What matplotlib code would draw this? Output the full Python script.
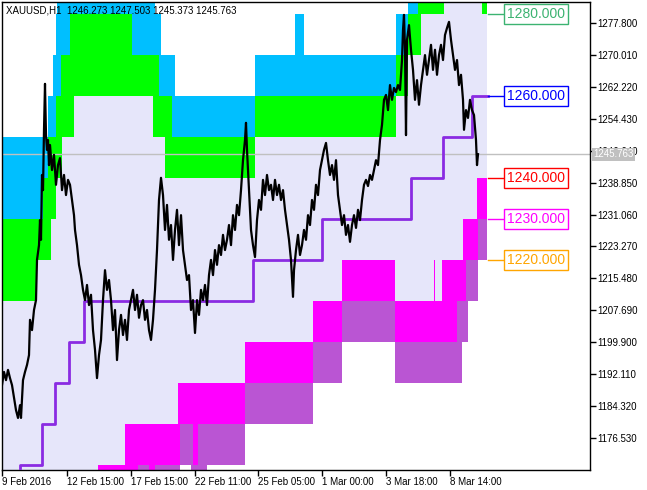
import matplotlib.pyplot as plt
from matplotlib import transforms

plt.rcParams['font.family'] = ['Liberation Sans', 'DejaVu Sans']

# H1 bars, one bar per pixel column, bar 0 = 9 Feb 2016
price_path = [
    (0, 1189.5), (2, 1192.7), (4, 1190.7), (6, 1193.2), (8, 1191.2), (10, 1189.5), (12, 1186.4),
    (14, 1183.4), (16, 1181.5), (18, 1184.6), (19, 1181.5), (21, 1190.7), (23, 1192.7), (25, 1194.4),
    (27, 1196.8), (28, 1205.4), (30, 1202.9), (32, 1207.8), (34, 1210.2), (35, 1220.0), (37, 1223.6),
    (38, 1229.7), (39, 1224.9), (40, 1240.7), (41, 1237.0), (42, 1251.7), (43, 1262.9), (44, 1250.4),
    (45, 1246.8), (46, 1249.2), (47, 1243.1), (48, 1248.0), (50, 1241.9), (52, 1245.6), (54, 1238.3),
    (56, 1243.1), (58, 1244.8), (60, 1237.0), (62, 1240.7), (64, 1235.8), (66, 1239.5), (68, 1238.3),
    (70, 1234.6), (72, 1230.9), (73, 1227.3), (75, 1223.6), (77, 1218.8), (79, 1216.3), (81, 1212.7),
    (83, 1210.2), (85, 1213.9), (87, 1209.0), (89, 1211.5), (91, 1202.9), (93, 1198.1), (95, 1191.2),
    (97, 1196.8), (99, 1200.5), (101, 1210.2), (103, 1217.5), (105, 1212.7), (107, 1215.1), (109, 1210.2),
    (111, 1202.9), (113, 1207.8), (115, 1195.6), (117, 1202.9), (119, 1206.6), (121, 1201.7), (123, 1205.4),
    (125, 1200.5), (127, 1207.8), (129, 1210.2), (131, 1212.7), (133, 1207.8), (135, 1211.5), (137, 1205.9),
    (139, 1209.0), (141, 1210.2), (143, 1205.4), (145, 1207.8), (147, 1202.9), (149, 1200.5), (151, 1205.4),
    (153, 1212.7), (155, 1222.4), (157, 1234.6), (159, 1240.0), (161, 1235.8), (163, 1227.3), (165, 1233.4),
    (167, 1224.9), (169, 1228.5), (171, 1220.0), (173, 1227.3), (175, 1232.2), (177, 1223.6), (179, 1230.9),
    (181, 1222.4), (183, 1218.8), (185, 1215.1), (187, 1216.3), (189, 1207.8), (191, 1210.2), (193, 1202.2),
    (195, 1210.2), (197, 1206.6), (199, 1212.7), (201, 1210.2), (203, 1213.9), (205, 1209.0), (207, 1216.3),
    (209, 1220.0), (211, 1216.3), (213, 1222.4), (215, 1218.8), (217, 1223.6), (219, 1221.2), (221, 1226.1),
    (223, 1222.4), (225, 1224.9), (227, 1228.5), (229, 1223.6), (231, 1230.9), (233, 1227.3), (235, 1233.4),
    (237, 1230.9), (239, 1237.0), (241, 1244.3), (243, 1249.2), (244, 1253.4), (245, 1246.8), (247, 1237.0),
    (249, 1227.3), (251, 1223.6), (253, 1220.7), (255, 1229.7), (257, 1234.6), (259, 1232.2), (261, 1239.5),
    (263, 1235.8), (265, 1240.7), (267, 1237.0), (269, 1238.3), (271, 1234.6), (273, 1239.5), (275, 1235.8),
    (277, 1238.3), (279, 1234.6), (281, 1237.0), (283, 1232.2), (285, 1228.5), (287, 1224.9), (289, 1220.0),
    (291, 1211.0), (292, 1217.5), (294, 1222.4), (296, 1226.1), (298, 1221.2), (300, 1223.6), (302, 1227.3),
    (304, 1224.9), (306, 1230.9), (308, 1228.5), (310, 1234.6), (312, 1232.2), (314, 1238.3), (316, 1235.8),
    (318, 1241.9), (320, 1244.3), (322, 1246.8), (324, 1248.5), (326, 1244.3), (328, 1240.7), (330, 1243.1),
    (332, 1239.5), (334, 1244.3), (336, 1235.8), (338, 1232.2), (340, 1228.5), (342, 1230.9), (344, 1226.1),
    (346, 1228.5), (348, 1224.4), (350, 1228.5), (352, 1230.9), (354, 1227.8), (356, 1232.2), (358, 1229.7),
    (360, 1234.6), (362, 1238.3), (364, 1239.5), (366, 1238.0), (368, 1240.7), (370, 1239.5), (372, 1241.9),
    (374, 1244.3), (376, 1243.1), (378, 1249.2), (380, 1252.9), (382, 1259.0), (384, 1260.2), (386, 1256.5),
    (388, 1262.6), (390, 1259.0), (392, 1261.9), (394, 1260.9), (396, 1262.6), (398, 1261.4), (400, 1268.7),
    (401, 1276.0), (402, 1279.7), (403, 1271.2), (404, 1250.4), (405, 1273.6), (407, 1277.2), (409, 1271.2),
    (411, 1266.3), (413, 1259.0), (415, 1263.8), (417, 1257.8), (419, 1262.6), (421, 1266.3), (423, 1269.9),
    (425, 1265.1), (427, 1268.7), (429, 1272.4), (431, 1266.3), (433, 1271.2), (435, 1265.1), (437, 1269.9),
    (439, 1272.4), (441, 1268.7), (443, 1274.8), (445, 1276.5), (447, 1278.0), (449, 1273.6), (451, 1269.9),
    (453, 1266.3), (455, 1268.7), (457, 1262.6), (459, 1265.1), (461, 1259.0), (462, 1251.7), (464, 1256.5),
    (466, 1254.6), (468, 1259.0), (470, 1256.5), (472, 1255.3), (474, 1249.2), (475, 1243.1), (476, 1245.763),
]
last_price = 1245.763
ohlc = '1246.273 1247.503 1245.373 1245.763'

# zones: (band bottom, first bar, last bar), each band 10 points tall
cyan_zones = [
    (1280, 55, 153), (1280, 406, 416),
    (1270, 54, 68), (1270, 130, 159), (1270, 293, 302), (1270, 394, 406),
    (1260, 51, 59), (1260, 157, 173), (1260, 253, 394),
    (1250, 46, 54), (1250, 170, 253),
    (1240, 0, 46),
    (1230, 0, 41),
]
green_zones = [
    (1280, 416, 442), (1280, 480, 485),
    (1270, 68, 130), (1270, 406, 419),
    (1260, 59, 157), (1260, 394, 406),
    (1250, 54, 72), (1250, 151, 170), (1250, 253, 394),
    (1240, 46, 60), (1240, 163, 253),
    (1230, 41, 54),
    (1220, 0, 49),
    (1210, 0, 35),
]
lavender_zones = [
    (1280, 442, 480),
    (1270, 419, 485),
    (1260, 406, 485),
    (1250, 72, 151), (1250, 394, 485),
    (1240, 60, 163), (1240, 253, 485),
    (1230, 54, 475),
    (1220, 49, 461),
    (1210, 35, 340), (1210, 393, 432), (1210, 433, 440),
    (1200, 0, 311),
    (1190, 0, 243),
    (1180, 0, 176),
    (1170, 0, 123),
    (1160, 0, 96),
]
magenta_zones = [
    (1230, 475, 485),
    (1220, 461, 476),
    (1210, 340, 393), (1210, 432, 433), (1210, 440, 464),
    (1200, 311, 340), (1200, 393, 455),
    (1190, 243, 311),
    (1180, 176, 243),
    (1170, 123, 178), (1170, 191, 196),
    (1160, 96, 136), (1160, 147, 153),
]
orchid_zones = [
    (1220, 476, 485),
    (1210, 464, 476),
    (1200, 340, 393), (1200, 455, 466),
    (1190, 311, 340), (1190, 393, 460),
    (1180, 243, 311),
    (1170, 178, 191), (1170, 196, 243),
    (1160, 136, 147), (1160, 153, 178), (1160, 189, 205),
]

step_bars = [18, 18, 39.7, 53, 67, 82, 250.7, 320.3, 408.7, 441.3, 469.7, 486]
step_levels = [1160, 1170, 1180, 1190, 1200, 1210, 1220, 1230, 1240, 1250, 1260, 1260]

level_values = [1280, 1260, 1240, 1230, 1220]
level_colors = ['#3cb371', '#0000ff', '#ff0000', '#ff00ff', '#ffa500']

price_ticks = [1277.80, 1270.01, 1262.22, 1254.43, 1246.64, 1238.85, 1231.06, 1223.27,
               1215.48, 1207.69, 1199.90, 1192.11, 1184.32, 1176.53]
date_ticks = [0, 64.7, 128.7, 192.7, 256.3, 320.3, 384, 448]
date_labels = ['9 Feb 2016', '12 Feb 15:00', '17 Feb 15:00', '22 Feb 11:00',
               '25 Feb 05:00', '1 Mar 00:00', '3 Mar 18:00', '8 Mar 14:00']

fig = plt.figure(figsize=(6.47, 4.90), dpi=100)
ax = fig.add_axes([2 / 647, 20 / 490, 588 / 647, 468 / 490])
ax.set_xlim(0, 588)
ax.set_ylim(1168.81, 1282.84)

for zones, col in [(lavender_zones, '#e6e6fa'), (cyan_zones, '#00bfff'), (green_zones, '#00ff00'),
                   (magenta_zones, '#ff00ff'), (orchid_zones, '#ba55d3')]:
    for lvl, a, b in zones:
        ax.broken_barh([(a, b - a)], (lvl, 10), facecolors=col, linewidth=0,
                       antialiased=False, zorder=1)

ax.axhline(last_price, color='#c0c0c0', lw=1, zorder=2)

ax.plot(step_bars, step_levels, drawstyle='steps-post', color='#8a2be2', lw=2, zorder=3)

bars = [p[0] for p in price_path]
vals = [p[1] for p in price_path]
ax.plot(bars, vals, color='black', lw=1.6, zorder=4)

for lvl, col in zip(level_values, level_colors):
    ax.plot([486, 501], [lvl, lvl], color=col, lw=1, zorder=3)
    ax.text(534, lvl, '%.3f' % lvl, color=col, fontsize=10, ha='center', va='center', zorder=5,
            bbox=dict(boxstyle='square,pad=0.22', fc='white', ec=col, lw=1))

ax.text(0.007, 0.992, 'XAUUSD,H1  ' + ohlc, transform=ax.transAxes, fontsize=7,
        ha='left', va='top', zorder=6)

ax.yaxis.tick_right()
ax.set_yticks(price_ticks)
ax.set_yticklabels(['%.3f' % t for t in price_ticks])
ax.set_xticks(date_ticks)
ax.set_xticklabels(date_labels, ha='left')
ax.tick_params(axis='both', direction='out', length=4, width=1, labelsize=7, pad=1)

trans = transforms.blended_transform_factory(ax.transAxes, ax.transData)
ax.text(1.006, last_price, '%.3f' % last_price, transform=trans, color='white', fontsize=7,
        ha='left', va='center', zorder=10, clip_on=False,
        bbox=dict(boxstyle='square,pad=0.15', fc='#c0c0c0', ec='none'))

for s in ax.spines.values():
    s.set_linewidth(1)
    s.set_color('black')

fig.savefig('out.png', dpi=100)
